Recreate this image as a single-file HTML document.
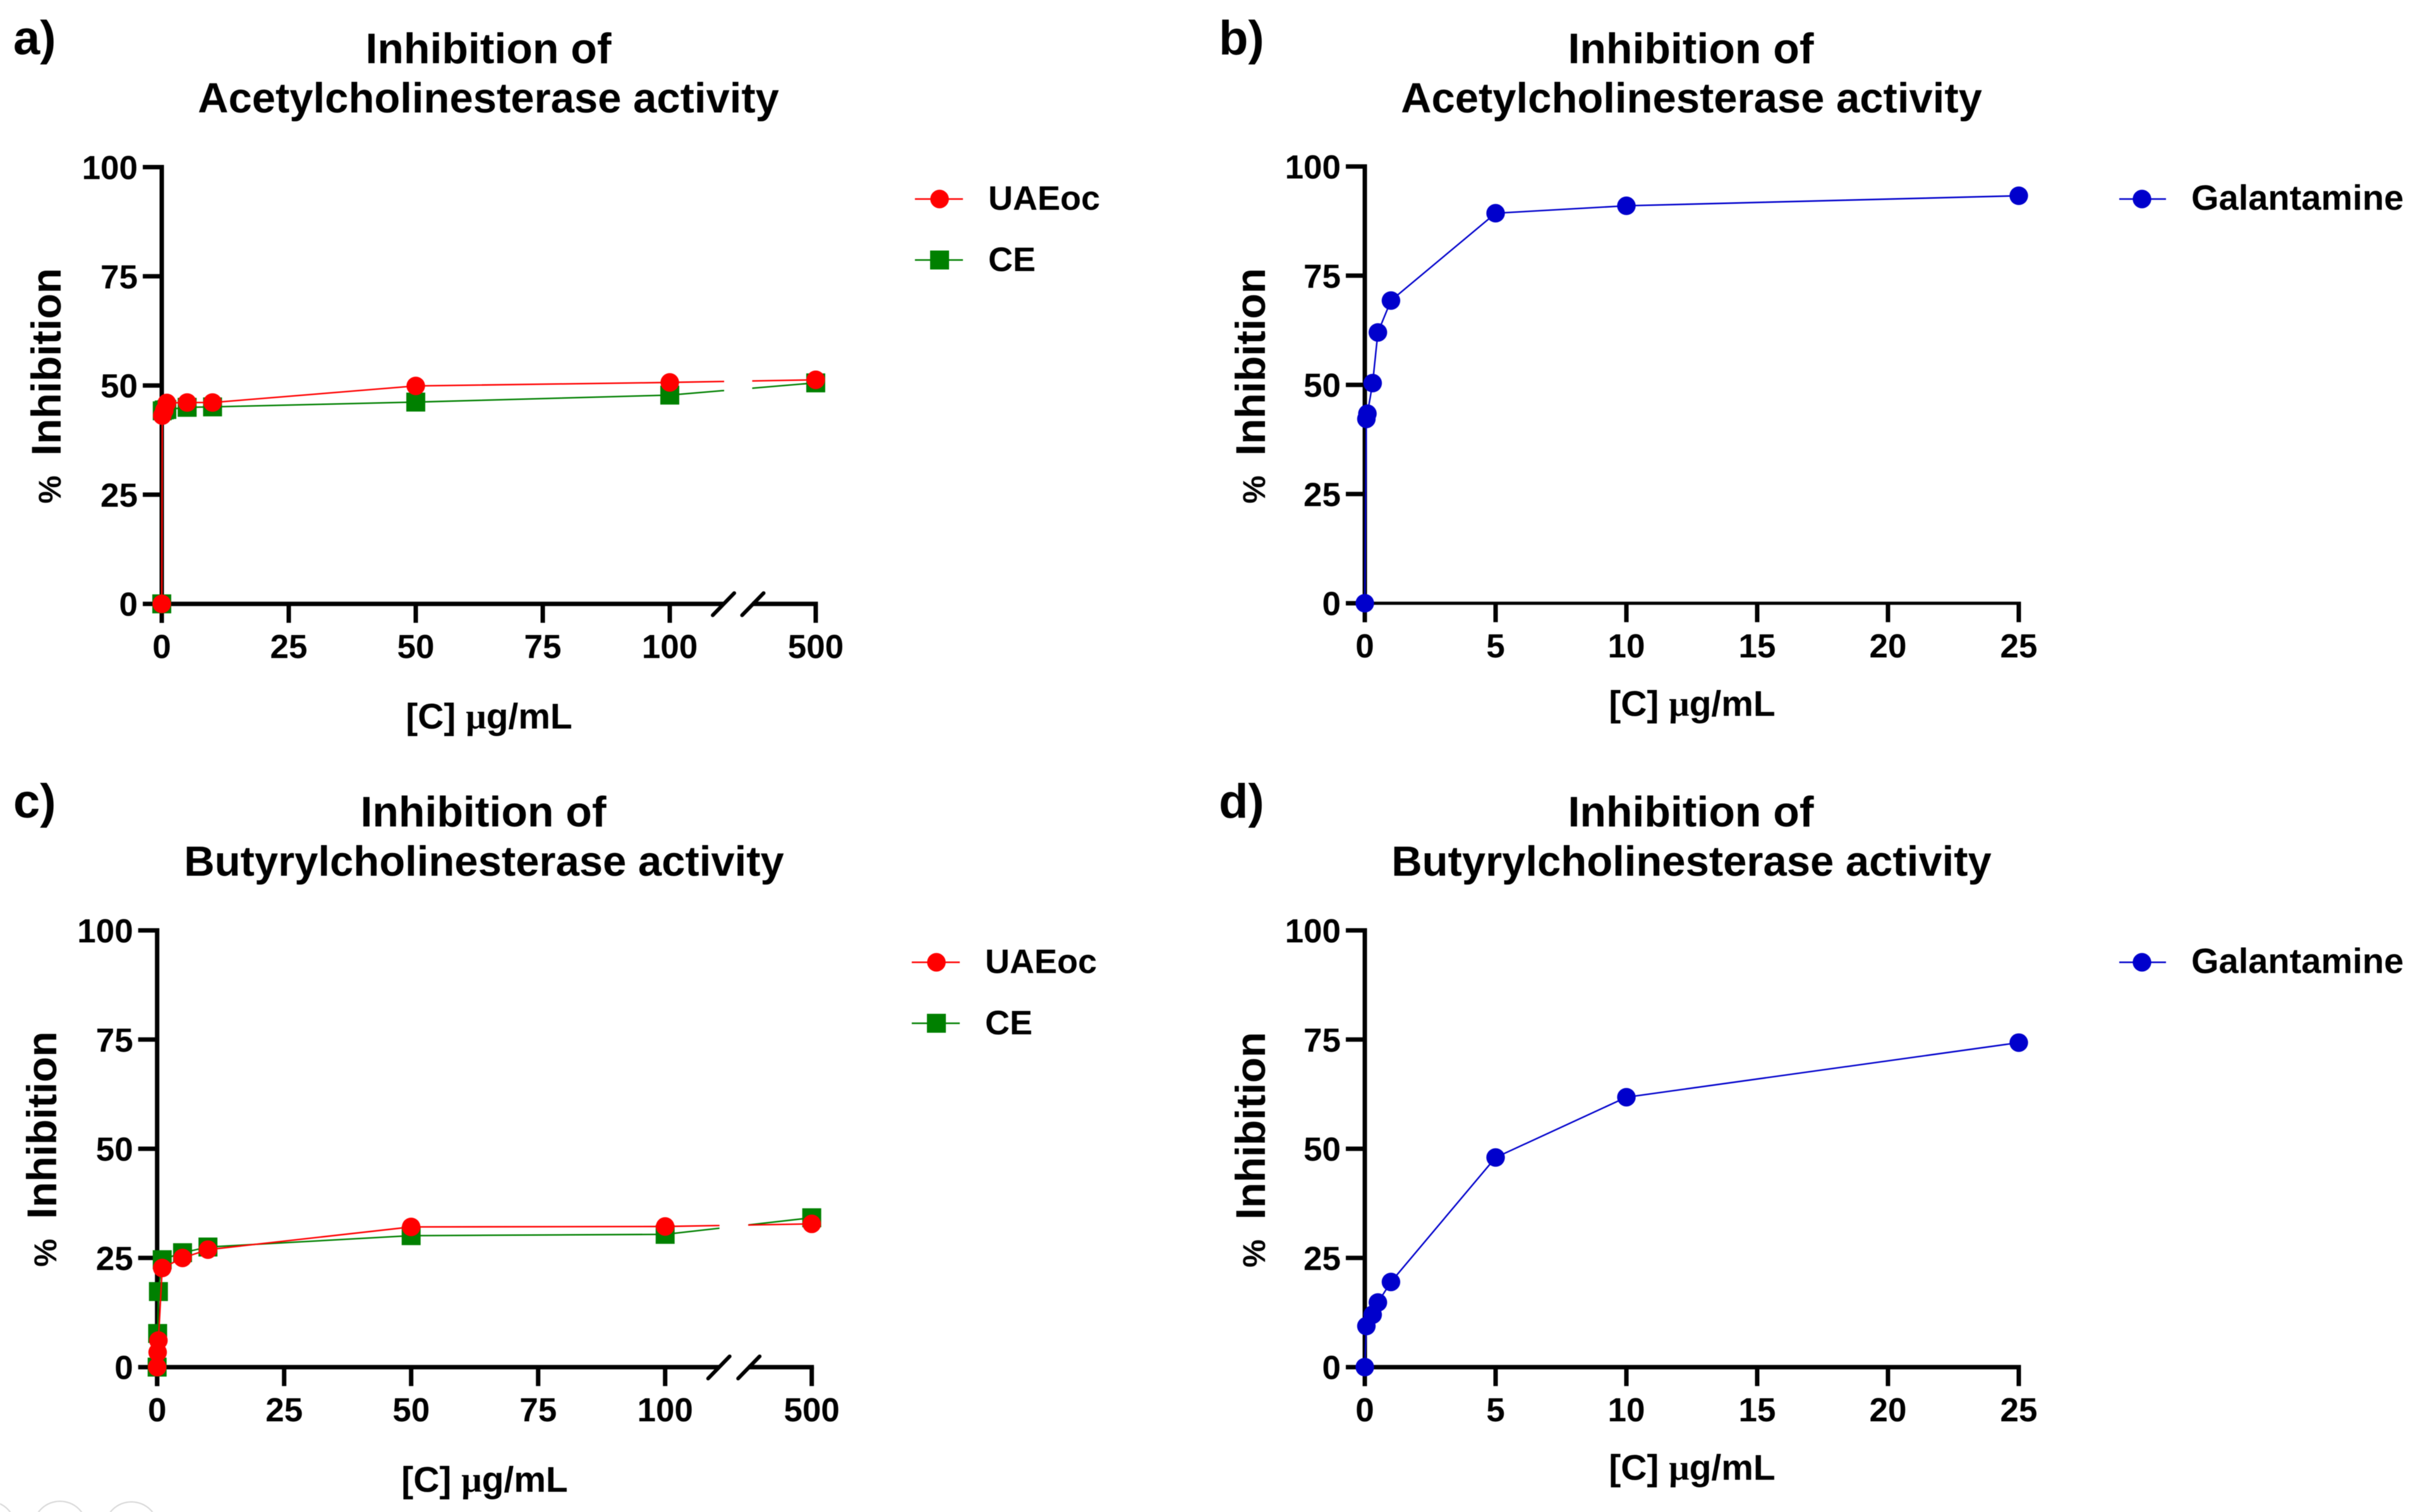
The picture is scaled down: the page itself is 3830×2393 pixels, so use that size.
<!DOCTYPE html>
<html>
<head>
<meta charset="utf-8">
<title>Cholinesterase inhibition charts</title>
<style>
html,body{margin:0;padding:0;background:#fff;}
svg{display:block;filter:blur(0.6px);}
text{font-family:"Liberation Sans",sans-serif;font-weight:bold;fill:#000;}
.title{font-size:67px;text-anchor:middle;}
.title1{font-size:68px;text-anchor:middle;}
.panel{font-size:76px;}
.ytitle{font-size:66px;text-anchor:start;}
.pct{font-size:50px;}
.xtitle{font-size:57px;text-anchor:middle;}
.legend{font-size:54px;}
.legend-wide{font-size:56px;}
.tick{font-size:53px;}
.mu{font-family:"Liberation Serif",serif;}
</style>
</head>
<body>
<svg id="chart" xmlns="http://www.w3.org/2000/svg" width="3830" height="2393" viewBox="0 0 3830 2393">
  <rect x="0" y="0" width="3830" height="2393" fill="#fff"/>

  <text class="panel" x="21" y="86">a)</text>
  <text class="title1" x="773" y="100">Inhibition of</text>
  <text class="title" x="773" y="178">Acetylcholinesterase activity</text>
  <text class="ytitle" transform="translate(96,797) rotate(-90)"><tspan class="pct">%</tspan> <tspan dx="13">Inhibition</tspan></text>
  <text class="xtitle" x="774" y="1153">[C] <tspan class="mu">μ</tspan>g/mL</text>

  <text class="panel" x="1929" y="86">b)</text>
  <text class="title1" x="2676" y="100">Inhibition of</text>
  <text class="title" x="2677" y="178">Acetylcholinesterase activity</text>
  <text class="ytitle" transform="translate(2002,797) rotate(-90)"><tspan class="pct">%</tspan> <tspan dx="13">Inhibition</tspan></text>
  <text class="xtitle" x="2678" y="1133">[C] <tspan class="mu">μ</tspan>g/mL</text>

  <text class="panel" x="21" y="1294">c)</text>
  <text class="title1" x="765" y="1308">Inhibition of</text>
  <text class="title" x="766" y="1386">Butyrylcholinesterase activity</text>
  <text class="ytitle" transform="translate(89,2005) rotate(-90)"><tspan class="pct">%</tspan> <tspan dx="13">Inhibition</tspan></text>
  <text class="xtitle" x="767" y="2361">[C] <tspan class="mu">μ</tspan>g/mL</text>

  <text class="panel" x="1929" y="1294">d)</text>
  <text class="title1" x="2676" y="1308">Inhibition of</text>
  <text class="title" x="2677" y="1386">Butyrylcholinesterase activity</text>
  <text class="ytitle" transform="translate(2002,2006) rotate(-90)"><tspan class="pct">%</tspan> <tspan dx="13">Inhibition</tspan></text>
  <text class="xtitle" x="2678" y="2342">[C] <tspan class="mu">μ</tspan>g/mL</text>

  <g>
    <line x1="1448" y1="315" x2="1524" y2="315" stroke="#ff0000" stroke-width="2.5"/>
    <circle cx="1487" cy="315" r="14.7" fill="#ff0000"/>
    <text class="legend" x="1564" y="332">UAEoc</text>
    <line x1="1448" y1="411.5" x2="1524" y2="411.5" stroke="#008000" stroke-width="2.5"/>
    <rect x="1472" y="396.5" width="30" height="30" fill="#008000"/>
    <text class="legend" x="1564" y="429">CE</text>
  </g>
  <g>
    <line x1="3354" y1="315" x2="3428" y2="315" stroke="#0000cc" stroke-width="2.5"/>
    <circle cx="3390" cy="315" r="14.7" fill="#0000cc"/>
    <text class="legend-wide" x="3468" y="332">Galantamine</text>
  </g>
  <g>
    <line x1="1443" y1="1523" x2="1519" y2="1523" stroke="#ff0000" stroke-width="2.5"/>
    <circle cx="1482" cy="1523" r="14.7" fill="#ff0000"/>
    <text class="legend" x="1559" y="1540">UAEoc</text>
    <line x1="1443" y1="1619.5" x2="1519" y2="1619.5" stroke="#008000" stroke-width="2.5"/>
    <rect x="1467" y="1604.5" width="30" height="30" fill="#008000"/>
    <text class="legend" x="1559" y="1637">CE</text>
  </g>
  <g>
    <line x1="3354" y1="1523" x2="3428" y2="1523" stroke="#0000cc" stroke-width="2.5"/>
    <circle cx="3390" cy="1523" r="14.7" fill="#0000cc"/>
    <text class="legend-wide" x="3468" y="1540">Galantamine</text>
  </g>

  <g fill="none" stroke="#d6d6d6" stroke-width="2">
    <circle cx="-18" cy="2418.5" r="42.5"/>
    <circle cx="95" cy="2418.5" r="42.5"/>
    <circle cx="208" cy="2419.5" r="42.5"/>
  </g>
</svg>
<script>
// ---- chart data ----
const yTickValues = [0, 25, 50, 75, 100];
const brokenXTickValues = [0, 25, 50, 75, 100, 500];
const linearXTickValues = [0, 5, 10, 15, 20, 25];

const concA = [0, 0.1, 0.5, 1, 5, 10, 50, 100, 500];
const uaeocA = [0, 43.1, 44.3, 46, 46.1, 46.1, 49.9, 50.7, 51.3];
const ceA = [0, 44.2, 44.4, 44.5, 45, 45.1, 46.2, 47.8, 50.6];

const concC = [0, 0.1, 0.25, 1, 5, 10, 50, 100, 500];
const uaeocC = [0, 3.4, 6.1, 22.7, 25, 26.9, 32.1, 32.2, 32.8];
const concCE = [0, 0.1, 0.25, 1, 5, 10, 50, 100, 500];
const ceC = [0, 7.7, 17.3, 24.6, 26.2, 27.5, 30.1, 30.4, 34.2];

const concB = [0, 0.06, 0.1, 0.3, 0.5, 1, 5, 10, 25];
const galantamineB = [0, 42.2, 43.4, 50.4, 62, 69.3, 89.3, 91, 93.3];

const concD = [0, 0.06, 0.3, 0.5, 1, 5, 10, 25];
const galantamineD = [0, 9.4, 12, 14.8, 19.5, 48, 61.8, 74.3];

// ---- drawing ----
const NS = 'http://www.w3.org/2000/svg';
const root = document.getElementById('chart');
function make(parent, tag, attrs) {
  const el = document.createElementNS(NS, tag);
  for (const k in attrs) el.setAttribute(k, attrs[k]);
  parent.appendChild(el);
  return el;
}

// Axis functions
function linearX(g) { return v => g.x0 + v * g.ux; }
function brokenX(g) {
  return v => v <= g.breakLow ? g.x0 + v * g.ux : g.x500 - (500 - v) * g.ux;
}
function yScale(g) { return v => g.y0 - v * g.uy; }

function drawAxes(group, g, xf, yf, xTicks) {
  const AW = 7;
  for (const t of yTickValues) {
    const tick = make(group, 'line', {x1: g.x0 - 30, x2: g.x0, y1: yf(t), y2: yf(t), stroke: '#000', 'stroke-width': AW});
    
    
    const lab = make(group, 'text', {class: 'tick', x: g.x0 - 38, y: yf(t) + 19, 'text-anchor': 'end'});
    lab.textContent = String(t);
    
    
  }
  const yAxis = make(group, 'line', {x1: g.x0, x2: g.x0, y1: yf(100) - AW / 2, y2: g.y0 + 30, stroke: '#000', 'stroke-width': AW});
  
  

  for (const t of xTicks) {
    const tick = make(group, 'line', {x1: xf(t), x2: xf(t), y1: g.y0, y2: g.y0 + 30, stroke: '#000', 'stroke-width': AW});
    
    
    const lab = make(group, 'text', {class: 'tick', x: xf(t), y: g.y0 + 86, 'text-anchor': 'middle'});
    lab.textContent = String(t);
    
    
  }
  const last = xTicks[xTicks.length - 1];
  if (g.breakLow) {
    const left = xf(g.breakLow);
    const right = xf(g.breakHigh);
    const seg1 = make(group, 'line', {x1: g.x0, x2: left, y1: g.y0, y2: g.y0, stroke: '#000', 'stroke-width': AW});
    
    
    const seg2 = make(group, 'line', {x1: right, x2: xf(last) + AW / 2, y1: g.y0, y2: g.y0, stroke: '#000', 'stroke-width': AW});
    
    
    const s1 = make(group, 'line', {x1: left - 18, x2: left + 16, y1: g.y0 + 18, y2: g.y0 - 17, stroke: '#000', 'stroke-width': 6, 'stroke-linecap': 'round'});
    
    
    const s2 = make(group, 'line', {x1: right - 16, x2: right + 18, y1: g.y0 + 18, y2: g.y0 - 17, stroke: '#000', 'stroke-width': 6, 'stroke-linecap': 'round'});
    
    
  } else {
    const axis = make(group, 'line', {x1: g.x0, x2: xf(last) + AW / 2, y1: g.y0, y2: g.y0, stroke: '#000', 'stroke-width': g.xAxisWidth || AW});
    
    
  }
}

function drawSeriesLine(group, xs, ys, xf, yf, color, clipId, name) {
  const pts = xs.map((v, i) => xf(v).toFixed(2) + ',' + yf(ys[i]).toFixed(2)).join(' ');
  const attrs = {points: pts, fill: 'none', stroke: color, 'stroke-width': 2.4, 'stroke-linejoin': 'round'};
  if (clipId) attrs['clip-path'] = 'url(#' + clipId + ')';
  const line = make(group, 'polyline', attrs);
  
  
}

function drawCircles(group, xs, ys, xf, yf, color, name) {
  xs.forEach((v, i) => {
    const c = make(group, 'circle', {cx: xf(v), cy: yf(ys[i]), r: 14.7, fill: color});
    
    
  });
}

function drawSquares(group, xs, ys, xf, yf, color, name) {
  xs.forEach((v, i) => {
    const s = make(group, 'rect', {x: xf(v) - 15, y: yf(ys[i]) - 15, width: 30, height: 30, fill: color});
    
    
  });
}

function makeBreakClip(id, g, xf) {
  const cp = make(root, 'clipPath', {id: id});
  make(cp, 'rect', {x: 0, y: 0, width: xf(g.breakLow), height: 2393});
  make(cp, 'rect', {x: xf(g.breakHigh), y: 0, width: 3830 - xf(g.breakHigh), height: 2393});
}

function drawExtractPanel(name, g, concR, redVals, concG, greenVals) {
  const xf = brokenX(g), yf = yScale(g);
  const group = make(root, 'g', {});
  
  
  makeBreakClip('break-' + name, g, xf);
  drawAxes(group, g, xf, yf, brokenXTickValues);
  drawSeriesLine(group, concG, greenVals, xf, yf, '#008000', 'break-' + name, 'ce');
  drawSquares(group, concG, greenVals, xf, yf, '#008000', 'ce');
  drawSeriesLine(group, concR, redVals, xf, yf, '#ff0000', 'break-' + name, 'uaeoc');
  drawCircles(group, concR, redVals, xf, yf, '#ff0000', 'uaeoc');
}

function drawGalantaminePanel(name, g, conc, vals) {
  const xf = linearX(g), yf = yScale(g);
  const group = make(root, 'g', {});
  
  
  drawAxes(group, g, xf, yf, linearXTickValues);
  drawSeriesLine(group, conc, vals, xf, yf, '#0000cc', null, 'galantamine');
  drawCircles(group, conc, vals, xf, yf, '#0000cc', 'galantamine');
}

drawExtractPanel('a', {x0: 256, ux: 8.04, y0: 955.7, uy: 6.912, x500: 1291, breakLow: 110.7, breakHigh: 487.5}, concA, uaeocA, concA, ceA);
drawExtractPanel('c', {x0: 248.7, ux: 8.04, y0: 2163.7, uy: 6.912, x500: 1284.7, breakLow: 110.7, breakHigh: 487.5}, concC, uaeocC, concCE, ceC);
drawGalantaminePanel('b', {x0: 2160, ux: 41.4, y0: 954.7, uy: 6.912, xAxisWidth: 5}, concB, galantamineB);
drawGalantaminePanel('d', {x0: 2160, ux: 41.4, y0: 2163.7, uy: 6.912}, concD, galantamineD);
</script>
</body>
</html>
